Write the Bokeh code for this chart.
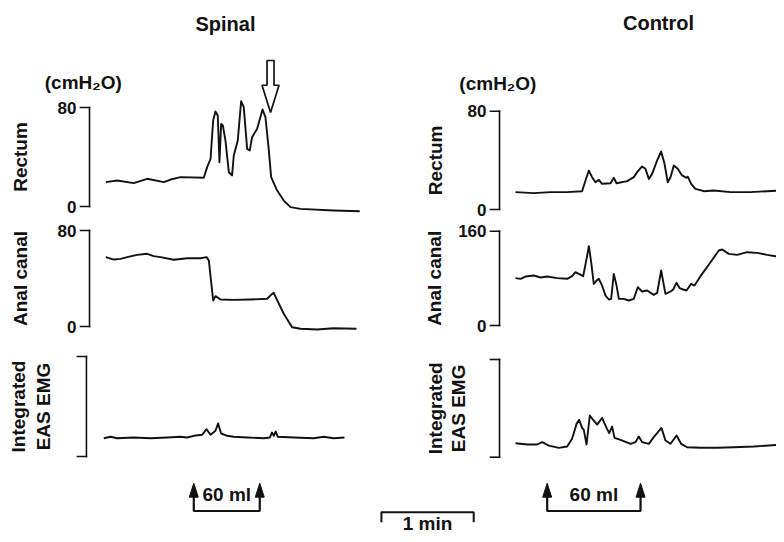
from bokeh.plotting import figure
from bokeh.models import Range1d
from bokeh.core.properties import value
from bokeh.embed import file_html
from bokeh.resources import INLINE
import math

FONT = "Liberation Sans"
INK = "#111111"

# ---------------- data (time in s from start of trace; pressures in cmH2O; EMG in arbitrary units 0-100)
spinal_rectum_t = [0.2, 7.6, 18.4, 27.1, 37.9, 42.3, 48.8, 63.9, 66.1, 68.3, 70.0, 71.5, 73.0, 74.1, 75.2, 76.3,
                   78.0, 80.2, 82.3, 83.4, 86.0, 88.2, 89.9, 92.1, 93.8, 95.3, 98.6, 102.1, 104.0, 106.2, 107.7,
                   111.6, 115.9, 120.3, 126.8, 148.4, 165.3]
spinal_rectum_p = [19.7, 21.0, 18.9, 22.4, 19.7, 21.8, 23.7, 23.2, 31.8, 38.5, 69.5, 76.8, 73.5, 35.8, 66.8, 65.5,
                   53.3, 27.7, 25.1, 41.2, 53.3, 85.1, 80.3, 46.6, 45.3, 56.0, 62.8, 78.4, 72.2, 45.3, 23.7,
                   12.9, 4.8, -0.5, -1.9, -3.2, -3.8]

spinal_anal_t = [0.2, 5.4, 9.8, 14.1, 20.6, 27.1, 31.4, 35.8, 44.4, 53.1, 61.8, 65.7, 67.2, 68.7, 70.0, 71.5,
                 74.8, 83.4, 94.3, 105.1, 107.7, 109.4, 111.2, 115.9, 121.3, 126.8, 137.6, 148.4, 163.2]
spinal_anal_p = [57.8, 55.8, 56.4, 57.8, 59.7, 60.6, 58.6, 57.8, 55.6, 56.9, 56.9, 57.8, 55.0, 36.9, 21.7, 25.3,
                 22.5, 22.2, 22.5, 23.1, 26.4, 28.1, 23.1, 10.6, -0.6, -1.9, -2.5, -1.4, -1.9]

spinal_emg_t = [-1.1, 3.3, 7.6, 18.4, 29.3, 40.1, 48.8, 53.1, 57.4, 62.8, 65.7, 68.3, 71.5, 73.2, 75.2, 79.1,
                83.4, 92.1, 102.9, 106.8, 108.3, 109.4, 110.7, 112.0, 122.4, 135.4, 141.9, 148.4, 155.4]
spinal_emg_v = [18.3, 19.7, 18.3, 19.0, 18.3, 19.0, 19.7, 19.0, 20.7, 21.7, 27.3, 21.7, 25.7, 33.0, 23.0, 20.7,
                19.7, 19.0, 18.3, 19.0, 24.0, 20.7, 25.0, 19.7, 19.0, 18.3, 19.7, 18.3, 19.0]

control_rectum_t = [0.0, 11.9, 22.8, 33.6, 43.3, 45.5, 47.7, 49.8, 52.0, 54.2, 56.3, 61.8, 63.9, 65.7, 72.6, 76.9,
                    79.1, 82.3, 84.5, 86.7, 88.8, 92.1, 94.7, 96.9, 99.0, 100.8, 102.9, 105.5, 108.3, 111.2,
                    112.0, 114.2, 117.0, 122.4, 128.9, 139.8, 152.8, 163.6, 174.9]
control_rectum_p = [14.1, 13.3, 14.1, 14.1, 14.9, 23.6, 31.7, 26.3, 22.2, 24.1, 20.9, 21.4, 25.8, 21.4, 23.1, 26.3,
                    30.4, 35.0, 33.1, 24.9, 29.0, 39.9, 47.2, 37.2, 22.2, 26.3, 35.8, 33.1, 27.7, 25.8,
                    26.8, 20.9, 16.8, 14.9, 15.5, 14.1, 14.1, 14.9, 15.5]

control_anal_t = [0.0, 3.3, 6.5, 11.9, 16.3, 20.6, 27.1, 33.6, 36.8, 39.0, 41.2, 44.0, 46.2, 47.7, 49.2, 50.9,
                  52.7, 54.2, 56.3, 58.5, 60.7, 62.2, 63.9, 65.7, 67.2, 70.4, 73.7, 76.9, 79.5, 82.3, 85.6,
                  89.9, 92.1, 94.7, 97.5, 100.8, 102.5, 104.7, 106.8, 109.0, 111.2, 114.2, 116.4, 120.3,
                  126.8, 132.2, 134.4, 138.7, 144.1, 150.6, 157.1, 163.6, 169.0, 174.9]
control_anal_p = [80.3, 79.2, 83.1, 84.8, 81.4, 83.1, 80.3, 79.2, 83.7, 90.5, 87.7, 83.7, 113.1, 134.6, 107.4, 70.7,
                  76.3, 79.2, 67.8, 50.9, 44.1, 45.2, 87.6, 67.8, 45.2, 45.2, 42.4, 45.2, 65.0, 57.7, 59.4,
                  52.0, 55.4, 93.3, 53.7, 57.7, 61.1, 72.4, 63.3, 61.1, 59.4, 70.7, 67.8, 83.7,
                  107.4, 127.2, 128.9, 121.6, 119.9, 124.4, 123.3, 119.9, 117.6, 115.9]

control_emg_t = [0.0, 7.6, 14.1, 17.3, 21.7, 28.2, 33.6, 36.8, 39.7, 41.4, 43.3, 44.4, 46.2, 48.3, 50.5, 53.1,
                 56.3, 59.2, 60.9, 62.8, 64.4, 68.3, 74.8, 78.0, 80.2, 82.3, 86.7, 89.9, 94.9, 97.5, 100.8,
                 104.7, 107.7, 111.6, 120.3, 131.1, 141.9, 154.9, 174.9]
control_emg_v = [14.3, 13.0, 13.0, 15.4, 11.9, 9.6, 10.9, 18.8, 34.1, 38.2, 30.0, 28.0, 13.0, 42.7, 38.2, 33.4,
                 40.3, 30.0, 24.6, 31.4, 19.8, 17.7, 13.7, 15.4, 21.2, 15.4, 13.7, 20.5, 30.0, 17.1, 13.7,
                 22.2, 13.7, 10.2, 9.6, 9.6, 10.2, 10.9, 13.0]

# calibration ticks
rectum_ticks = [0, 80]
spinal_anal_ticks = [0, 80]
control_anal_ticks = [0, 160]
emg_ticks = [0, 100]   # unlabelled bracket

# events
spinal_infusion = [57.4, 100.3]      # s, 60 ml infusion start / end
control_infusion = [20.6, 81.3]
spinal_arrow_time = 107.3            # s, open arrow in spinal rectum panel
spinal_arrow_tip = 76.0              # cmH2O
scale_bar_start = 179.4              # s (spinal time base)
scale_bar_len = 60.0                 # 1 min

col_titles = ["Spinal", "Control"]
unit_label = "(cmH\u2082O)"
volume_label = "60 ml"
time_label = "1 min"

# ---------------- canvas
W, H = 776, 534
PX_PER_S = 1.538          # horizontal scale, pixels per second
T_LEFT = -105 / PX_PER_S  # spinal time at left edge of canvas
C_LEFT = -515 / PX_PER_S  # control time at left edge of canvas


def yr(zero_px, px_per_unit):
    """range whose 0 lies at zero_px (from top of canvas)"""
    return Range1d((zero_px - H) / px_per_unit, zero_px / px_per_unit)


p = figure(width=W, height=H, output_backend="svg", toolbar_location=None,
           x_range=Range1d(T_LEFT, T_LEFT + W / PX_PER_S), y_range=Range1d(H, 0),
           x_axis_location=None, y_axis_location=None,
           min_border_left=0, min_border_right=0, min_border_top=0, min_border_bottom=0)
p.extra_x_ranges = {"ctrl": Range1d(C_LEFT, C_LEFT + W / PX_PER_S)}
p.extra_y_ranges = {
    "r1": yr(206.0, 99.0 / 80), "a1": yr(326.0, 96.0 / 80), "e1": yr(456.0, 1.0),
    "r2": yr(209.0, 98.3 / 80), "a2": yr(325.0, 94.3 / 160), "e2": yr(456.7, 0.977),
}
p.outline_line_color = None
p.background_fill_color = "white"
p.border_fill_color = "white"
p.grid.visible = False


def txt(x, y, s, size, xr="default", yrn="default", align="center", baseline="middle", angle=0.0):
    p.text(x=[x], y=[y], text=[s], x_range_name=xr, y_range_name=yrn,
           text_font=value(FONT), text_font_size=size, text_font_style="bold", text_color=INK,
           text_align=align, text_baseline=baseline, angle=angle)


def bracket(xr, yrn, x_axis, ticks, labelled=True):
    tick_len = 9 / PX_PER_S
    xs = [[x_axis, x_axis]] + [[x_axis - tick_len, x_axis] for _ in ticks]
    ys = [[ticks[0], ticks[-1]]] + [[t, t] for t in ticks]
    p.multi_line(xs, ys, x_range_name=xr, y_range_name=yrn, line_color=INK, line_width=1.6,
                 line_join="miter", line_cap="square")
    if labelled:
        for t in ticks:
            txt(x_axis - 13 / PX_PER_S, t, str(t), "17px", xr, yrn, align="right")


def trace(xr, yrn, t, v):
    p.line(t, v, x_range_name=xr, y_range_name=yrn, line_color=INK, line_width=1.9, line_join="round")


R90 = math.pi / 2
AX1 = -10.4     # axis position (s) in each column
AX1E = -12.4

# ---------------- spinal column
trace("default", "r1", spinal_rectum_t, spinal_rectum_p)
trace("default", "a1", spinal_anal_t, spinal_anal_p)
trace("default", "e1", spinal_emg_t, spinal_emg_v)
bracket("default", "r1", AX1, rectum_ticks)
bracket("default", "a1", AX1, spinal_anal_ticks)
bracket("default", "e1", AX1E, emg_ticks, labelled=False)
txt(78, 23, col_titles[0], "20px")
txt(-39.5, 82, unit_label, "19px", align="left")
txt(-55.3, 40, "Rectum", "19px", yrn="r1", angle=R90)
txt(-55.0, 40, "Anal canal", "19px", yrn="a1", angle=R90)
txt(-56.6, 50, "Integrated", "19px", yrn="e1", angle=R90)
txt(-40.3, 50, "EAS EMG", "19px", yrn="e1", angle=R90)

# open arrow marking the spinal rectal event
hw_head = 8.5 / PX_PER_S
hw_shaft = 3.5 / PX_PER_S
head_base = spinal_arrow_tip + 22
shaft_top = spinal_arrow_tip + 42
at = spinal_arrow_time
p.patch([at - hw_shaft, at + hw_shaft, at + hw_shaft, at + hw_head, at, at - hw_head, at - hw_shaft],
        [shaft_top, shaft_top, head_base, head_base, spinal_arrow_tip, head_base, head_base],
        y_range_name="r1", fill_color="white", line_color=INK, line_width=1.7)

# ---------------- control column
trace("ctrl", "r2", control_rectum_t, control_rectum_p)
trace("ctrl", "a2", control_anal_t, control_anal_p)
trace("ctrl", "e2", control_emg_t, control_emg_v)
bracket("ctrl", "r2", AX1, rectum_ticks)
bracket("ctrl", "a2", AX1, control_anal_ticks)
bracket("ctrl", "e2", AX1, emg_ticks, labelled=False)
txt(93, 22, col_titles[1], "20px", xr="ctrl")
txt(-36.5, 83, unit_label, "19px", xr="ctrl", align="left")
txt(-52.3, 40, "Rectum", "19px", xr="ctrl", yrn="r2", angle=R90)
txt(-52.7, 80, "Anal canal", "19px", xr="ctrl", yrn="a2", angle=R90)
txt(-52.0, 50, "Integrated", "19px", xr="ctrl", yrn="e2", angle=R90)
txt(-37.0, 50, "EAS EMG", "19px", xr="ctrl", yrn="e2", angle=R90)

# ---------------- infusion markers (y in px from top of canvas)
base_y, tip_y, head_len, head_hw = 510.5, 482.7, 14.0, 4.5 / PX_PER_S
for (s, e), xr in ((spinal_infusion, "default"), (control_infusion, "ctrl")):
    p.multi_line([[s, s, e, e]], [[tip_y + head_len - 1, base_y, base_y, tip_y + head_len - 1]],
                 x_range_name=xr, line_color=INK, line_width=2.2)
    p.patches([[s - head_hw, s, s + head_hw], [e - head_hw, e, e + head_hw]],
              [[tip_y + head_len, tip_y, tip_y + head_len]] * 2,
              x_range_name=xr, fill_color=INK, line_color=INK, line_width=1)
    txt((s + e) / 2, 494, volume_label, "19px", xr=xr)

# time scale bar
sb_y, sb_tick = 511.7, 10
p.multi_line([[scale_bar_start, scale_bar_start, scale_bar_start + scale_bar_len, scale_bar_start + scale_bar_len]],
             [[sb_y + sb_tick, sb_y, sb_y, sb_y + sb_tick]], line_color=INK, line_width=2)
txt(scale_bar_start + scale_bar_len / 2, 533, time_label, "19px", baseline="bottom")

open("out.html", "w").write(file_html(p, INLINE))
